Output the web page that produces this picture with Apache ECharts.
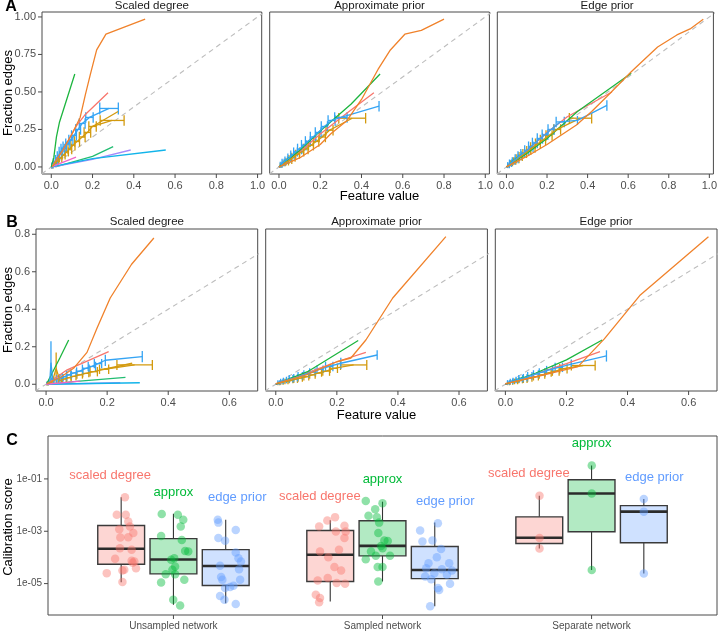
<!DOCTYPE html>
<html><head><meta charset="utf-8">
<script src="https://cdn.jsdelivr.net/npm/echarts@6/dist/echarts.min.js"></script>
<style>html,body{margin:0;padding:0;background:#fff}#c{width:720px;height:631px}</style>
</head><body><div id="c"></div>
<script>
// ---------- Panel A: Scaled degree ----------
const A1_orange = [[0.005,0.005],[0.05,0.1],[0.1,0.22],[0.14,0.33],[0.165,0.48],[0.19,0.62],[0.22,0.78],[0.265,0.885],[0.455,0.985]];
const A1_green = [[0,0],[0.012,0.06],[0.025,0.2],[0.04,0.3],[0.114,0.62]];
const A1_salmon = [[0,0],[0.06,0.12],[0.12,0.27],[0.165,0.35],[0.275,0.495]];
const A1_teal = [[0.02,0.0],[0.2,0.07],[0.30,0.135]];
const A1_purple = [[0.01,0.0],[0.2,0.05],[0.385,0.113]];
const A1_cyan = [[0,0],[0.2,0.055],[0.555,0.113]];
const A1_pink = [[0,0],[0.12,0.065]];
const A1_blue = [[0.005,0.01,0.003,0.02],[0.015,0.03,0.005,0.03],[0.025,0.05,0.005,0.03],[0.035,0.075,0.006,0.03],[0.045,0.1,0.007,0.035],[0.055,0.12,0.008,0.035],[0.065,0.135,0.008,0.035],[0.08,0.155,0.01,0.035],[0.095,0.18,0.01,0.035],[0.11,0.21,0.012,0.035],[0.13,0.25,0.012,0.035],[0.15,0.29,0.014,0.035],[0.185,0.33,0.018,0.035],[0.28,0.39,0.045,0.04]];
const A1_gold = [[0.005,0.005,0.003,0.015],[0.015,0.02,0.005,0.02],[0.03,0.04,0.005,0.025],[0.045,0.06,0.006,0.03],[0.06,0.08,0.007,0.03],[0.075,0.1,0.008,0.03],[0.09,0.12,0.009,0.035],[0.105,0.145,0.01,0.035],[0.125,0.17,0.012,0.035],[0.15,0.2,0.014,0.035],[0.175,0.23,0.016,0.035],[0.2,0.27,0.018,0.035],[0.295,0.31,0.058,0.035]];
const A1_goldLine = [[0.2,0.27],[0.324,0.37]];
// ---------- Panel A: Approximate prior ----------
const A2_orange = [[0,0],[0.1,0.06],[0.2,0.15],[0.25,0.22],[0.33,0.31],[0.40,0.45],[0.48,0.65],[0.54,0.78],[0.61,0.885],[0.69,0.91],[0.80,0.985]];
const A2_green = [[0,0],[0.1,0.11],[0.2,0.24],[0.35,0.42],[0.49,0.62]];
const A2_salmon = [[0,0],[0.1,0.1],[0.2,0.22],[0.33,0.36],[0.46,0.495]];
const A2_teal = [[0,0],[0.03,0.04],[0.07,0.085]];
const A2_purple = [[0,0],[0.04,0.03]];
const A2_cyan = [[0,0],[0.05,0.03]];
const A2_pink = [[0,0],[0.03,0.025]];
const A2_blue = [[0.01,0.015,0.004,0.02],[0.02,0.03,0.005,0.025],[0.035,0.045,0.006,0.025],[0.05,0.06,0.007,0.03],[0.065,0.08,0.008,0.03],[0.08,0.1,0.009,0.03],[0.1,0.12,0.01,0.035],[0.12,0.145,0.011,0.035],[0.14,0.17,0.012,0.035],[0.165,0.2,0.013,0.035],[0.19,0.23,0.014,0.035],[0.22,0.27,0.015,0.035],[0.255,0.31,0.017,0.035],[0.3,0.33,0.03,0.035],[0.485,0.405,0,0.035]];
const A2_gold = [[0.01,0.01,0.004,0.015],[0.025,0.025,0.005,0.02],[0.04,0.035,0.006,0.025],[0.055,0.05,0.007,0.03],[0.07,0.065,0.008,0.03],[0.09,0.085,0.009,0.03],[0.11,0.1,0.01,0.03],[0.13,0.12,0.011,0.035],[0.155,0.145,0.012,0.035],[0.18,0.17,0.013,0.035],[0.21,0.2,0.015,0.035],[0.245,0.245,0.017,0.035],[0.355,0.325,0.065,0.035]];
// ---------- Panel A: Edge prior ----------
const A3_orange = [[0,0],[0.1,0.07],[0.2,0.15],[0.345,0.28],[0.42,0.37],[0.495,0.47],[0.615,0.635],[0.745,0.80],[0.84,0.88],[0.905,0.92],[0.97,0.985]];
const A3_green = [[0,0],[0.1,0.09],[0.2,0.19],[0.35,0.37],[0.615,0.625]];
const A3_salmon = [[0,0],[0.1,0.11],[0.2,0.23],[0.30,0.335],[0.52,0.50]];
const A3_teal = [[0,0],[0.04,0.05],[0.08,0.09]];
const A3_purple = [[0,0],[0.04,0.035]];
const A3_cyan = [[0,0],[0.05,0.04]];
const A3_pink = [[0,0],[0.03,0.03]];
const A3_blue = [[0.01,0.012,0.004,0.02],[0.02,0.025,0.005,0.025],[0.035,0.04,0.006,0.025],[0.05,0.055,0.007,0.03],[0.065,0.075,0.008,0.03],[0.08,0.09,0.009,0.03],[0.1,0.11,0.01,0.035],[0.12,0.135,0.011,0.035],[0.14,0.16,0.012,0.035],[0.165,0.19,0.013,0.035],[0.19,0.215,0.014,0.035],[0.22,0.25,0.015,0.035],[0.265,0.30,0.02,0.035],[0.35,0.31,0,0.03],[0.495,0.41,0,0.035]];
const A3_gold = [[0.01,0.01,0.004,0.015],[0.025,0.025,0.005,0.02],[0.04,0.04,0.006,0.025],[0.055,0.055,0.007,0.03],[0.07,0.07,0.008,0.03],[0.09,0.09,0.009,0.03],[0.11,0.11,0.01,0.03],[0.13,0.13,0.011,0.035],[0.155,0.155,0.012,0.035],[0.18,0.18,0.013,0.035],[0.21,0.21,0.015,0.035],[0.25,0.25,0.017,0.035],[0.365,0.325,0.055,0.035]];
// ---------- Panel B: Scaled degree ----------
const B1_orange = [[0.003,0.003],[0.05,0.04],[0.09,0.085],[0.134,0.17],[0.167,0.30],[0.21,0.46],[0.28,0.64],[0.353,0.78]];
const B1_green = [[0.003,0.005],[0.02,0.06],[0.045,0.14],[0.074,0.236]];
const B1_salmon = [[0.003,0.003],[0.069,0.077],[0.205,0.174]];
const B1_teal = [[0.01,0.0],[0.1,0.015],[0.26,0.037]];
const B1_purple = [[0,0],[0.243,0.008]];
const B1_cyan = [[0,0],[0.307,0.008]];
const B1_pink = [[0,0],[0.112,0.017]];
const B1_blue = [[0.005,0.005,0.002,0.01],[0.012,0.012,0.003,0.012],[0.016,0.115,0,0.115],[0.022,0.02,0.004,0.015],[0.03,0.025,0.005,0.015],[0.04,0.03,0.005,0.02],[0.05,0.035,0.006,0.02],[0.06,0.04,0.007,0.02],[0.075,0.05,0.008,0.02],[0.09,0.06,0.009,0.02],[0.11,0.07,0.01,0.02],[0.13,0.085,0.011,0.02],[0.15,0.095,0.012,0.025],[0.17,0.11,0.012,0.025],[0.194,0.128,0,0.03],[0.315,0.147,0,0.03]];
const B1_gold = [[0.005,0.003,0.002,0.01],[0.012,0.008,0.003,0.012],[0.02,0.012,0.004,0.015],[0.033,0.085,0,0.085],[0.045,0.02,0.005,0.015],[0.06,0.028,0.006,0.02],[0.075,0.035,0.007,0.02],[0.09,0.042,0.008,0.02],[0.11,0.05,0.009,0.02],[0.13,0.058,0.01,0.02],[0.156,0.067,0.012,0.025],[0.19,0.08,0.015,0.025],[0.29,0.103,0.058,0.027]];
const B1_goldLine = [[0.19,0.08],[0.282,0.112]];
// ---------- Panel B: Approximate prior ----------
const B2_orange = [[0,0.003],[0.1,0.05],[0.2,0.12],[0.246,0.14],[0.295,0.236],[0.383,0.46],[0.557,0.787]];
const B2_green = [[0,0],[0.104,0.067],[0.27,0.233]];
const B2_salmon = [[0,0],[0.1,0.06],[0.2,0.12],[0.295,0.17]];
const B2_teal = [[0,0],[0.03,0.02],[0.06,0.04]];
const B2_purple = [[0,0],[0.03,0.015]];
const B2_cyan = [[0,0],[0.04,0.02]];
const B2_pink = [[0,0],[0.025,0.012]];
const B2_blue = [[0.01,0.01,0.003,0.012],[0.02,0.015,0.004,0.015],[0.03,0.02,0.005,0.015],[0.04,0.025,0.005,0.015],[0.05,0.03,0.006,0.02],[0.065,0.035,0.006,0.02],[0.08,0.045,0.007,0.02],[0.1,0.055,0.008,0.02],[0.12,0.065,0.009,0.02],[0.145,0.08,0.01,0.02],[0.175,0.095,0.012,0.025],[0.213,0.112,0,0.03],[0.332,0.156,0,0.025]];
const B2_gold = [[0.01,0.005,0.003,0.01],[0.02,0.01,0.004,0.012],[0.035,0.015,0.005,0.015],[0.05,0.02,0.006,0.015],[0.065,0.027,0.006,0.02],[0.08,0.033,0.007,0.02],[0.1,0.04,0.008,0.02],[0.12,0.05,0.009,0.02],[0.14,0.06,0.01,0.02],[0.165,0.07,0.011,0.025],[0.19,0.085,0.012,0.025],[0.255,0.103,0.043,0.027]];
// ---------- Panel B: Edge prior ----------
const B3_orange = [[0,0.003],[0.1,0.04],[0.238,0.094],[0.324,0.242],[0.44,0.473],[0.665,0.787]];
const B3_green = [[0,0],[0.1,0.06],[0.2,0.13],[0.317,0.236]];
const B3_salmon = [[0,0],[0.1,0.055],[0.2,0.11],[0.31,0.174]];
const B3_teal = [[0,0],[0.03,0.02],[0.06,0.04]];
const B3_purple = [[0,0],[0.03,0.015]];
const B3_cyan = [[0,0],[0.04,0.02]];
const B3_pink = [[0,0],[0.025,0.012]];
const B3_blue = [[0.01,0.01,0.003,0.012],[0.02,0.015,0.004,0.015],[0.03,0.02,0.005,0.015],[0.04,0.025,0.005,0.015],[0.05,0.03,0.006,0.02],[0.065,0.035,0.006,0.02],[0.08,0.045,0.007,0.02],[0.1,0.055,0.008,0.02],[0.12,0.065,0.009,0.02],[0.145,0.078,0.01,0.02],[0.175,0.09,0.012,0.025],[0.216,0.107,0,0.025],[0.331,0.151,0,0.03]];
const B3_gold = [[0.01,0.005,0.003,0.01],[0.02,0.01,0.004,0.012],[0.035,0.015,0.005,0.015],[0.05,0.02,0.006,0.015],[0.065,0.027,0.006,0.02],[0.08,0.033,0.007,0.02],[0.1,0.04,0.008,0.02],[0.12,0.05,0.009,0.02],[0.14,0.06,0.01,0.02],[0.165,0.07,0.011,0.025],[0.19,0.083,0.012,0.025],[0.255,0.1,0.039,0.027]];

// ---------- Panel C (calibration score, log10) ----------
const networks = ['Unsampled network','Sampled network','Separate network'];
const methods = ['scaled degree','approx','edge prior'];
// box stats: [position, lowerWhisker, q1, median, q3, upperWhisker] (log10 scale)
const boxScaled = [[0.75,-4.95,-4.26,-3.67,-2.78,-1.70],[1.75,-5.68,-4.92,-3.90,-2.97,-2.58],[2.75,-3.66,-3.47,-3.25,-2.45,-1.64]];
const boxApprox = [[1.0,-5.81,-4.63,-4.08,-3.28,-2.33],[2.0,-4.92,-3.94,-3.56,-2.60,-1.87],[3.0,-4.48,-3.02,-1.56,-1.03,-0.49]];
const boxEdge = [[1.25,-5.75,-5.07,-4.33,-3.70,-2.56],[2.25,-5.87,-4.81,-4.48,-3.58,-2.67],[3.25,-4.61,-3.44,-2.25,-2.02,-1.77]];
// jittered points [x, log10 score]
const ptsScaled = [[0.768,-1.70],[0.729,-2.37],[0.772,-2.37],[0.784,-2.63],[0.792,-2.82],[0.741,-2.92],[0.808,-3.07],[0.784,-3.23],[0.746,-3.24],[0.744,-3.65],[0.800,-3.71],[0.721,-4.05],[0.800,-4.13],[0.813,-4.16],[0.805,-4.20],[0.821,-4.41],[0.681,-4.60],[0.756,-4.50],[0.765,-4.47],[0.756,-4.94],
  [1.736,-2.59],[1.773,-2.46],[1.697,-2.82],[1.818,-2.79],[1.824,-3.01],[1.777,-3.01],[1.818,-3.26],[1.701,-3.77],[1.792,-3.71],[1.741,-3.99],[1.770,-4.37],[1.802,-4.50],[1.738,-4.79],[1.690,-4.88],[1.781,-4.98],[1.821,-5.01],[1.681,-5.43],[1.701,-5.55],[1.697,-5.71],
  [2.751,-1.64],[2.751,-3.26],[2.751,-3.66]];
const ptsApprox = [[0.944,-2.34],[1.021,-2.37],[1.047,-2.56],[1.035,-2.82],[0.941,-3.18],[1.040,-3.33],[1.056,-3.75],[1.071,-3.77],[1.004,-4.03],[0.989,-4.09],[1.008,-4.35],[0.995,-4.47],[0.963,-4.64],[1.008,-4.64],[1.052,-4.85],[0.941,-4.96],[0.999,-5.62],[1.032,-5.84],
  [1.920,-1.84],[2.000,-1.93],[1.965,-2.16],[1.933,-2.41],[1.973,-2.46],[1.984,-2.67],[1.980,-3.07],[2.009,-3.35],[2.025,-3.37],[1.993,-3.56],[2.000,-3.65],[1.945,-3.77],[1.968,-3.94],[2.036,-3.94],[1.920,-4.07],[1.977,-4.37],[2.000,-4.37],[1.980,-4.92],
  [3.001,-0.49],[3.001,-1.56],[3.001,-4.48]];
const ptsEdge = [[1.212,-2.56],[1.215,-2.67],[1.298,-2.95],[1.215,-3.26],[1.247,-3.36],[1.298,-3.81],[1.311,-4.03],[1.323,-4.16],[1.223,-4.32],[1.314,-4.45],[1.228,-4.75],[1.319,-4.85],[1.234,-4.85],[1.287,-5.08],[1.271,-5.13],[1.247,-5.17],[1.223,-5.47],[1.244,-5.62],[1.298,-5.78],
  [2.265,-2.69],[2.180,-2.97],[2.239,-3.35],[2.191,-3.39],[2.280,-3.68],[2.260,-3.99],[2.220,-4.22],[2.319,-4.22],[2.209,-4.41],[2.284,-4.45],[2.332,-4.50],[2.248,-4.60],[2.308,-4.66],[2.204,-4.73],[2.233,-4.83],[2.323,-5.01],[2.265,-5.17],[2.271,-5.24],[2.228,-5.87],
  [3.250,-1.77],[3.250,-2.25],[3.250,-4.61]];
// method label anchors [x, log10]
const lblScaled = [[0.697,-0.885],[1.70,-1.68],[2.70,-0.78]];
const lblApprox = [[1.0,-1.52],[2.0,-1.01],[3.0,0.36]];
const lblEdge = [[1.305,-1.71],[2.30,-1.87],[3.30,-0.95]];
const xTicksC = [1,2,3], yTicksC = [-5,-3,-1];

const xTicksA = [0,0.2,0.4,0.6,0.8,1.0], yTicksA = [0,0.25,0.5,0.75,1.0];
const xTicksB = [0,0.2,0.4,0.6], yTicksB = [0,0.2,0.4,0.6,0.8];
const panelTitles = ['Scaled degree','Approximate prior','Edge prior'];

// ---------- styling / layout ----------
const FONT = 'Liberation Sans, Arial, Helvetica, sans-serif';
const BORDER = '#4a4a4a';
const col = {orange:'#F0822B', green:'#1DB53F', salmon:'#F8766D', blue:'#35A4F4', gold:'#D39A0E', teal:'#22BD72', purple:'#A78BFA', pink:'#F065C8', cyan:'#12B4EA'};
const methodCol = ['#F8766D','#00BA38','#619CFF'];
const methodFill = ['rgba(248,118,109,0.3)','rgba(0,186,56,0.3)','rgba(97,156,255,0.3)'];
const methodPt = ['rgba(248,118,109,0.55)','rgba(0,186,56,0.55)','rgba(97,156,255,0.55)'];

const panels = [
  {teal:A1_teal,purple:A1_purple,cyan:A1_cyan,pink:A1_pink,salmon:A1_salmon,green:A1_green,goldLine:A1_goldLine,gold:A1_gold,blue:A1_blue,orange:A1_orange},
  {teal:A2_teal,purple:A2_purple,cyan:A2_cyan,pink:A2_pink,salmon:A2_salmon,green:A2_green,gold:A2_gold,blue:A2_blue,orange:A2_orange},
  {teal:A3_teal,purple:A3_purple,cyan:A3_cyan,pink:A3_pink,salmon:A3_salmon,green:A3_green,gold:A3_gold,blue:A3_blue,orange:A3_orange},
  {teal:B1_teal,purple:B1_purple,cyan:B1_cyan,pink:B1_pink,salmon:B1_salmon,green:B1_green,goldLine:B1_goldLine,gold:B1_gold,blue:B1_blue,orange:B1_orange},
  {teal:B2_teal,purple:B2_purple,cyan:B2_cyan,pink:B2_pink,salmon:B2_salmon,green:B2_green,gold:B2_gold,blue:B2_blue,orange:B2_orange},
  {teal:B3_teal,purple:B3_purple,cyan:B3_cyan,pink:B3_pink,salmon:B3_salmon,green:B3_green,gold:B3_gold,blue:B3_blue,orange:B3_orange}
];

const wA = 219.7, wB = 221.7;
const grids = [
  {left:42, top:12, width:wA, height:162},
  {left:269.7, top:12, width:wA, height:162},
  {left:497.3, top:12, width:wA, height:162},
  {left:36, top:229, width:wB, height:162},
  {left:265.7, top:229, width:wB, height:162},
  {left:495.3, top:229, width:wB, height:162},
  {left:48, top:436, width:669, height:179}
].map(g => Object.assign(g, {show:true, borderColor:BORDER, borderWidth:1, backgroundColor:'#fff', containLabel:false}));

const rangeA = {x:[-0.045,1.02], y:[-0.047,1.033]};
const rangeB = {x:[-0.033,0.693], y:[-0.036,0.828]};
const rangeC = {x:[0.4,3.6], y:[-6.2,0.64]};
const labelStyle = {color:'#4D4D4D', fontSize:11, fontFamily:FONT};
const axLine = {show:false, onZero:false};

const ranges = [rangeA, rangeA, rangeA, rangeB, rangeB, rangeB, rangeC];
const xTickSets = [xTicksA, xTicksA, xTicksA, xTicksB, xTicksB, xTicksB, xTicksC];
const yTickSets = [yTicksA, null, null, yTicksB, null, null, yTicksC];

const xAxis = [], yAxis = [];
for (let i = 0; i < 6; i++) {
  const r = ranges[i];
  const ydec = i < 3 ? 2 : 1;
  const first = !!yTickSets[i];
  xAxis.push({gridIndex:i, type:'value', position:'bottom', min:r.x[0], max:r.x[1], splitLine:{show:false}, axisLine:axLine,
    axisTick:{show:false},
    axisLabel:Object.assign({show:true, customValues:xTickSets[i], margin:6, formatter:v=>v.toFixed(1)}, labelStyle)});
  yAxis.push({gridIndex:i, type:'value', position:'left', min:r.y[0], max:r.y[1], splitLine:{show:false}, axisLine:axLine,
    axisTick:{show:false},
    axisLabel:Object.assign({show:first, customValues:first ? yTickSets[i] : [], margin:6, formatter:v=>v.toFixed(ydec)}, labelStyle)});
}
xAxis.push({gridIndex:6, type:'value', position:'bottom', min:rangeC.x[0], max:rangeC.x[1], splitLine:{show:false}, axisLine:axLine,
  axisTick:{show:false},
  axisLabel:{show:true, customValues:xTicksC, margin:6, color:'#4D4D4D', fontSize:10, fontFamily:FONT, formatter:v=>networks[Math.round(v)-1]}});
yAxis.push({gridIndex:6, type:'value', position:'left', min:rangeC.y[0], max:rangeC.y[1], splitLine:{show:false}, axisLine:axLine,
  axisTick:{show:false},
  axisLabel:{show:true, customValues:yTicksC, margin:6, color:'#4D4D4D', fontSize:10, fontFamily:FONT,
    formatter:v=>'1e' + (v < 0 ? '-' : '+') + String(Math.abs(Math.round(v))).padStart(2,'0')}});

const series = [];
// outside tick marks, positioned through each panel's own axes
function tickRender(dir) {
  return function(params, api) {
    const p = api.coord([api.value(0), api.value(1)]);
    const sh = dir === 'x' ? {x1:p[0], y1:p[1], x2:p[0], y2:p[1] + 4} : {x1:p[0], y1:p[1], x2:p[0] - 4, y2:p[1]};
    return {type:'line', shape:sh, style:{stroke:BORDER, lineWidth:1}};
  };
}
for (let i = 0; i < 7; i++) {
  const r = ranges[i];
  series.push({type:'custom', xAxisIndex:i, yAxisIndex:i, clip:false, silent:true, z:5, encode:{x:0, y:1},
    data:xTickSets[i].map(v => [v, r.y[0]]), renderItem:tickRender('x')});
  if (yTickSets[i]) {
    series.push({type:'custom', xAxisIndex:i, yAxisIndex:i, clip:false, silent:true, z:5, encode:{x:0, y:1},
      data:yTickSets[i].map(v => [r.x[0], v]), renderItem:tickRender('y')});
  }
}
// reference diagonal y = x spanning each panel
for (let i = 0; i < 6; i++) {
  const r = ranges[i];
  const lo = Math.min(r.x[0], r.y[0]), hi = Math.max(r.x[1], r.y[1]);
  series.push({type:'line', xAxisIndex:i, yAxisIndex:i, data:[[lo,lo],[hi,hi]], symbol:'none', silent:true,
    lineStyle:{color:'#BDBDBD', width:1.1, type:[5,4]}, z:1});
}
function errRender(color) {
  return function(params, api) {
    const x = api.value(0), y = api.value(1), ex = api.value(2), ey = api.value(3);
    const st = {stroke:color, lineWidth:1.3};
    const ch = [];
    if (ex > 0) {
      const a = api.coord([x-ex, y]), b = api.coord([x+ex, y]);
      ch.push({type:'line', shape:{x1:a[0],y1:a[1],x2:b[0],y2:b[1]}, style:st});
    }
    const xs = ex > 0 ? [x-ex, x+ex] : [x];
    xs.forEach(xx => {
      const t = api.coord([xx, y+ey]), bt = api.coord([xx, y-ey]);
      ch.push({type:'line', shape:{x1:t[0],y1:t[1],x2:bt[0],y2:bt[1]}, style:st});
    });
    return {type:'group', children:ch};
  };
}
panels.forEach((p, i) => {
  Object.keys(p).forEach(key => {
    const color = col[key.replace('Line','')];
    const arr = p[key];
    series.push({type:'line', xAxisIndex:i, yAxisIndex:i, data:arr.map(d => [d[0], d[1]]), symbol:'none', silent:true,
      lineStyle:{color:color, width:1.3}, z:2, clip:true});
    if (arr[0].length >= 4) {
      series.push({type:'custom', xAxisIndex:i, yAxisIndex:i, data:arr, encode:{x:0, y:1}, clip:true, silent:true, z:2,
        renderItem:errRender(color)});
    }
  });
});

// Panel C
function boxRender(fill) {
  return function(params, api) {
    const u = api.value(0), lo = api.value(1), q1 = api.value(2), med = api.value(3), q3 = api.value(4), hi = api.value(5);
    const hw = 0.112;
    const pLo = api.coord([u, lo]), pQ1 = api.coord([u, q1]), pQ3 = api.coord([u, q3]), pHi = api.coord([u, hi]);
    const tl = api.coord([u-hw, q3]), br = api.coord([u+hw, q1]);
    const m1 = api.coord([u-hw, med]), m2 = api.coord([u+hw, med]);
    const ws = {stroke:'#333', lineWidth:1.1};
    return {type:'group', children:[
      {type:'line', shape:{x1:pLo[0],y1:pLo[1],x2:pQ1[0],y2:pQ1[1]}, style:ws},
      {type:'line', shape:{x1:pQ3[0],y1:pQ3[1],x2:pHi[0],y2:pHi[1]}, style:ws},
      {type:'rect', shape:{x:tl[0], y:tl[1], width:br[0]-tl[0], height:br[1]-tl[1]}, style:{fill:fill, stroke:'#3a3a3a', lineWidth:1.4}},
      {type:'line', shape:{x1:m1[0],y1:m1[1],x2:m2[0],y2:m2[1]}, style:{stroke:'#2b2b2b', lineWidth:2.6}}
    ]};
  };
}
function labelRender(text, color) {
  return function(params, api) {
    const p = api.coord([api.value(0), api.value(1)]);
    return {type:'text', x:p[0], y:p[1], style:{text:text, fill:color, font:'13px ' + FONT, align:'center', verticalAlign:'middle', textAlign:'center', textVerticalAlign:'middle'}};
  };
}
const boxes = [boxScaled, boxApprox, boxEdge];
const pts = [ptsScaled, ptsApprox, ptsEdge];
const lbls = [lblScaled, lblApprox, lblEdge];
for (let m = 0; m < 3; m++) {
  series.push({type:'custom', xAxisIndex:6, yAxisIndex:6, data:boxes[m], encode:{x:0, y:[1,2,3,4,5]}, silent:true, z:2,
    renderItem:boxRender(methodFill[m])});
}
for (let m = 0; m < 3; m++) {
  series.push({type:'scatter', xAxisIndex:6, yAxisIndex:6, data:pts[m], symbolSize:8.5, silent:true, z:3,
    itemStyle:{color:methodPt[m]}});
}
for (let m = 0; m < 3; m++) {
  series.push({type:'custom', xAxisIndex:6, yAxisIndex:6, data:lbls[m], encode:{x:0, y:1}, silent:true, z:4, clip:false,
    renderItem:labelRender(methods[m], methodCol[m])});
}

// texts
const graphic = [];
function txt(text, x, y, size, opts) {
  opts = opts || {};
  graphic.push({type:'text', x:x, y:y, rotation:opts.rot || 0, silent:true,
    style:{text:text, fill:opts.color || '#1a1a1a', font:(opts.bold ? 'bold ' : '') + size + 'px ' + FONT,
      align:'center', verticalAlign:'middle', textAlign:'center', textVerticalAlign:'middle'}});
}
txt('A', 11, 7, 16, {bold:true, color:'#000'});
txt('B', 12, 223, 16, {bold:true, color:'#000'});
txt('C', 12, 441, 16, {bold:true, color:'#000'});
for (let k = 0; k < 3; k++) {
  txt(panelTitles[k], grids[k].left + wA/2, 6, 11.5);
  txt(panelTitles[k], grids[k+3].left + wB/2, 222, 11.5);
}
txt('Fraction edges', 8, 93, 13, {rot:Math.PI/2, color:'#000'});
txt('Fraction edges', 8, 310, 13, {rot:Math.PI/2, color:'#000'});
txt('Calibration score', 8, 527, 13, {rot:Math.PI/2, color:'#000'});
txt('Feature value', grids[1].left + wA/2, 196, 13, {color:'#000'});
txt('Feature value', grids[4].left + wB/2, 415, 13, {color:'#000'});

const chart = echarts.init(document.getElementById('c'), null, {renderer:'canvas'});
chart.setOption({animation:false, backgroundColor:'#fff', grid:grids, xAxis:xAxis, yAxis:yAxis, series:series, graphic:graphic});
</script></body></html>
